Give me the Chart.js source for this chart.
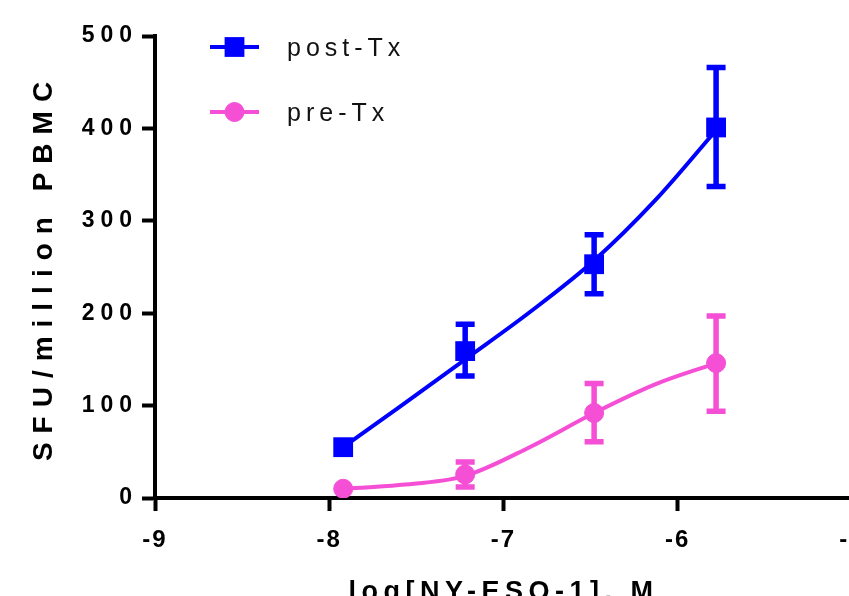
<!DOCTYPE html>
<html>
<head>
<meta charset="utf-8">
<script src="https://cdn.jsdelivr.net/npm/chart.js@4.4.1/dist/chart.umd.min.js"></script>
<style>
  html, body { margin: 0; padding: 0; background: #fff; overflow: hidden; }
  canvas { display: block; }
</style>
</head>
<body>
<canvas id="chart" width="880" height="620"></canvas>
<script>
// log concentration of peptide
const logConc = [-7.92, -7.22, -6.48, -5.78];

const postMean = [55, 159, 253, 401];
const postLow = [55, 132, 221, 337];
const postHigh = [55, 188, 285, 466];

const preMean = [10, 25.5, 92, 146];
const preLow = [10, 12, 61, 94];
const preHigh = [10, 39, 124, 197];

// fitted curves
const fitX = [-7.92, -7.6, -7.22, -6.85, -6.48, -6.13, -5.78];
const postFit = [55, 98, 150, 201, 257, 322, 398];
const preFit = [10, 14, 24, 55, 92, 123, 146];

const xTicks = [-9, -8, -7, -6, -5];
const yTicks = [0, 100, 200, 300, 400, 500];

const BLUE = '#0000ff';
const PINK = '#f54fd6';

const toPts = (xs, ys) => xs.map((x, i) => ({ x: x, y: ys[i] }));

// letter spacing per font size (the original uses widely spaced text)
const spacing = { 23: 6, 24: 2, 28: 9, 27: 5.5, 25: 5 };

const canvas = document.getElementById('chart');
const ctx = canvas.getContext('2d');
const fontProp = Object.getOwnPropertyDescriptor(CanvasRenderingContext2D.prototype, 'font');
Object.defineProperty(ctx, 'font', {
    get() { return fontProp.get.call(this); },
    set(v) {
        fontProp.set.call(this, v);
        const m = /(\d+(?:\.\d+)?)px/.exec(v);
        const s = m ? spacing[Math.round(parseFloat(m[1]))] : 0;
        this.letterSpacing = (s || 0) + 'px';
    }
});

const errors = {
    'post-Tx': { low: postLow, high: postHigh },
    'pre-Tx': { low: preLow, high: preHigh }
};

const errorBars = {
    id: 'errorBars',
    beforeDatasetsDraw(chart) {
        const c = chart.ctx;
        const xs = chart.scales.x, ys = chart.scales.y;
        chart.data.datasets.forEach((ds) => {
            const err = errors[ds.label];
            if (!err || ds.isFit) return;
            c.save();
            c.strokeStyle = ds.backgroundColor;
            c.lineWidth = 5.5;
            logConc.forEach((x, i) => {
                if (err.high[i] === err.low[i]) return;
                const px = xs.getPixelForValue(x);
                const y1 = ys.getPixelForValue(err.low[i]);
                const y2 = ys.getPixelForValue(err.high[i]);
                c.beginPath();
                c.moveTo(px, y1 + 2.5); c.lineTo(px, y2 - 2.5);
                c.moveTo(px - 9.5, y1); c.lineTo(px + 9.5, y1);
                c.moveTo(px - 9.5, y2); c.lineTo(px + 9.5, y2);
                c.stroke();
            });
            c.restore();
        });
    }
};

const sideLegend = {
    id: 'sideLegend',
    afterDraw(chart) {
        const c = chart.ctx;
        const area = chart.chartArea;
        const marks = chart.data.datasets.filter(ds => !ds.isFit);
        marks.forEach((ds, i) => {
            const y = area.top + 11 + i * 65;
            const x0 = area.left + 55;
            c.save();
            c.strokeStyle = ds.backgroundColor;
            c.fillStyle = ds.backgroundColor;
            c.lineWidth = 4;
            c.beginPath();
            c.moveTo(x0, y); c.lineTo(x0 + 49, y);
            c.stroke();
            c.lineWidth = ds.borderWidth || 0;
            c.strokeStyle = ds.borderColor;
            Chart.helpers.drawPoint(c, {
                pointStyle: ds.pointStyle, radius: ds.pointRadius,
                rotation: 0, borderWidth: ds.borderWidth || 0
            }, x0 + 24.5, y);
            c.font = "25px 'Liberation Sans', Arial, sans-serif";
            c.fillStyle = '#111';
            c.textBaseline = 'middle';
            c.textAlign = 'left';
            c.fillText(ds.label, x0 + 77, y + 2);
            c.restore();
        });
    }
};

Chart.defaults.font.family = "'Liberation Sans', Arial, sans-serif";
Chart.defaults.color = '#000';

new Chart(ctx, {
    type: 'scatter',
    data: {
        datasets: [
            {
                label: 'post-Tx',
                data: toPts(logConc, postMean),
                backgroundColor: BLUE,
                borderColor: BLUE,
                borderWidth: 0,
                pointStyle: 'rect',
                pointRadius: 14,
                order: 0
            },
            {
                label: 'pre-Tx',
                data: toPts(logConc, preMean),
                backgroundColor: PINK,
                borderColor: PINK,
                borderWidth: 1,
                pointStyle: 'circle',
                pointRadius: 9.5,
                order: 0
            },
            {
                label: 'post-Tx',
                isFit: true,
                type: 'line',
                data: toPts(fitX, postFit),
                borderColor: BLUE,
                backgroundColor: BLUE,
                borderWidth: 4,
                pointRadius: 0,
                cubicInterpolationMode: 'monotone',
                order: 1
            },
            {
                label: 'pre-Tx',
                isFit: true,
                type: 'line',
                data: toPts(fitX, preFit),
                borderColor: PINK,
                backgroundColor: PINK,
                borderWidth: 4,
                pointRadius: 0,
                cubicInterpolationMode: 'monotone',
                order: 1
            }
        ]
    },
    options: {
        responsive: false,
        animation: false,
        layout: { padding: { left: 0, top: 36, right: 28, bottom: 0 } },
        scales: {
            x: {
                type: 'linear',
                min: xTicks[0],
                max: xTicks[xTicks.length - 1],
                afterBuildTicks: (s) => { s.ticks = xTicks.map(v => ({ value: v })); },
                afterFit: (s) => { s.height = 122; },
                ticks: {
                    padding: 15,
                    font: { size: 24, weight: 'bold' },
                    callback: (v) => String(v)
                },
                grid: {
                    drawOnChartArea: false,
                    drawTicks: true,
                    tickLength: 13,
                    tickWidth: 4,
                    tickColor: '#000'
                },
                border: { color: '#000', width: 4 },
                title: {
                    display: true,
                    text: 'log[NY-ESO-1], M',
                    font: { size: 27, weight: 'bold' },
                    padding: { top: 0, bottom: 11 }
                }
            },
            y: {
                min: yTicks[0],
                max: yTicks[yTicks.length - 1],
                afterBuildTicks: (s) => { s.ticks = yTicks.map(v => ({ value: v })); },
                afterFit: (s) => { s.width = 155; },
                ticks: {
                    padding: 4,
                    font: { size: 23, weight: 'bold' }
                },
                grid: {
                    drawOnChartArea: false,
                    drawTicks: true,
                    tickLength: 13,
                    tickWidth: 4,
                    tickColor: '#000'
                },
                border: { color: '#000', width: 4 },
                title: {
                    display: true,
                    text: 'SFU/million PBMC',
                    font: { size: 28, weight: 'bold' },
                    padding: { top: 27, bottom: 0 }
                }
            }
        },
        plugins: {
            legend: { display: false },
            tooltip: { enabled: false }
        }
    },
    plugins: [errorBars, sideLegend]
});
</script>
</body>
</html>
